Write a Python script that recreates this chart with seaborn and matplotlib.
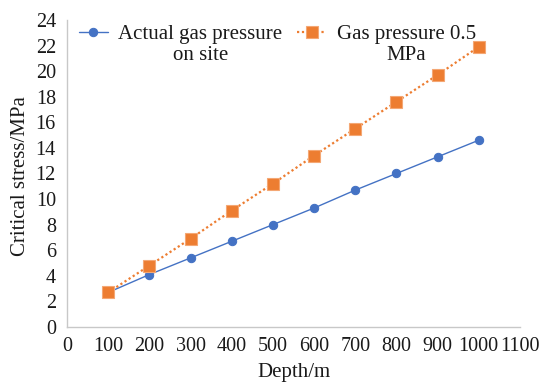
import matplotlib
matplotlib.use("Agg")
import matplotlib.pyplot as plt
import seaborn as sns
import pandas as pd

# Depth of the coal seam (m)
depth = [100, 200, 300, 400, 500, 600, 700, 800, 900, 1000]
# Critical stress (MPa) for the two gas pressure cases
actual_pressure = [2.7, 4.1, 5.4, 6.7, 8.0, 9.3, 10.7, 12.0, 13.3, 14.6]
pressure_05 = [2.7, 4.8, 6.9, 9.1, 11.2, 13.4, 15.5, 17.6, 19.7, 21.9]

series_names = ["Actual gas pressure\non site", "Gas pressure 0.5\nMPa"]
x_ticks = list(range(0, 1101, 100))
y_ticks = list(range(0, 25, 2))

sns.set_theme(style="white")
plt.rcParams["font.family"] = ["Liberation Serif", "DejaVu Serif"]

df = pd.DataFrame({
    "depth": depth * 2,
    "stress": actual_pressure + pressure_05,
    "series": [series_names[0]] * len(depth) + [series_names[1]] * len(depth),
})

fig = plt.figure(figsize=(5.51, 3.84), dpi=100)
ax = fig.add_axes([0.1216, 0.1484, 0.822, 0.7996])

blue = "#4472C4"
orange = "#ED7D31"
text_color = "#1a1a1a"

sns.lineplot(data=df[df.series == series_names[0]], x="depth", y="stress",
             ax=ax, color=blue, lw=1.0, marker="o", markersize=6,
             markeredgecolor=blue, label=series_names[0])
sns.lineplot(data=df[df.series == series_names[1]], x="depth", y="stress",
             ax=ax, color=orange, lw=1.6, linestyle=(0, (1, 1.2)), marker="s",
             markersize=8, markeredgecolor="#F4A774", markeredgewidth=0.8,
             label=series_names[1])

ax.set_xlim(0, 1100)
ax.set_ylim(0, 24)
ax.set_xticks(x_ticks)
ax.set_yticks(y_ticks)
ax.tick_params(axis="both", direction="in", length=4, color="#C8C8C8",
               labelsize=14.5, labelcolor=text_color)
ax.tick_params(axis="x", pad=7)
ax.tick_params(axis="y", pad=8)
ax.set_xlabel("Depth/m", fontsize=15, color=text_color)
ax.set_ylabel("Critical stress/MPa", fontsize=15, color=text_color)
ax.xaxis.set_label_coords(0.5, -0.117)
ax.yaxis.set_label_coords(-0.082, 0.49)

for side in ("top", "right"):
    ax.spines[side].set_visible(False)
for side in ("left", "bottom"):
    ax.spines[side].set_color("#C8C8C8")
    ax.spines[side].set_linewidth(1.0)

leg = ax.legend(loc="upper left", bbox_to_anchor=(0.012, 1.005), ncol=2,
                frameon=False, fontsize=15, handlelength=1.4,
                columnspacing=0.7, handletextpad=0.5, borderaxespad=0.0,
                borderpad=0.3)
for t in leg.get_texts():
    t.set_multialignment("center")
    t.set_color(text_color)
    t.set_linespacing(1.15)
# keep each legend handle level with the first line of its label
for column in leg._legend_handle_box.get_children():
    for item in column.get_children():
        item.align = "top"

fig.savefig("out.png", dpi=100)
